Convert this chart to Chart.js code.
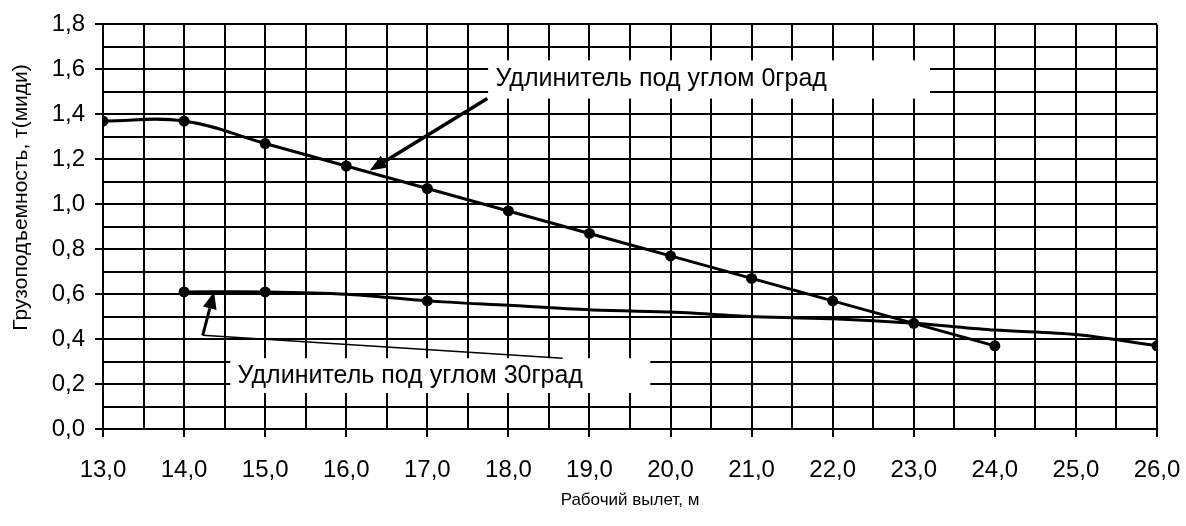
<!DOCTYPE html>
<html>
<head>
<meta charset="utf-8">
<script src="https://cdn.jsdelivr.net/npm/chart.js@4.4.1/dist/chart.umd.min.js"></script>
<style>
    html, body { margin: 0; padding: 0; background: #fff; }
    #wrap { width: 1186px; height: 526px; position: relative; }
</style>
</head>
<body>
<div id="wrap"><canvas id="chart"></canvas></div>
<script>
// Рабочий вылет, м / грузоподъемность, т
const reach0 = [13, 14, 15, 16, 17, 18, 19, 20, 21, 22, 23, 24];
const load0 = [1.37, 1.37, 1.27, 1.17, 1.07, 0.97, 0.87, 0.77, 0.67, 0.57, 0.47, 0.37];

const reach30 = [14, 15, 16, 17, 18, 19, 20, 21, 22, 23, 24, 25, 26];
const load30 = [0.61, 0.61, 0.60, 0.57, 0.55, 0.53, 0.52, 0.50, 0.49, 0.47, 0.44, 0.42, 0.37];
const marked30 = [14, 15, 17, 26];

const xTickValues = [13, 14, 15, 16, 17, 18, 19, 20, 21, 22, 23, 24, 25, 26];
const yTickValues = [0, 0.2, 0.4, 0.6, 0.8, 1.0, 1.2, 1.4, 1.6, 1.8];

const xTitle = 'Рабочий вылет, м';
const yTitle = 'Грузоподъемность, т(миди)';
const calloutTexts = ['Удлинитель под углом 0град', 'Удлинитель под углом 30град'];

const FONT = '"Liberation Sans", Arial, sans-serif';
const fmt = v => v.toFixed(1).replace('.', ',');
const isMajor = (list, v) => list.some(t => Math.abs(t - v) < 1e-6);

// callout placement, in data units
const callouts = [
    {
        text: calloutTexts[0],
        box: { x0: 17.75, x1: 23.2, y0: 1.64, y1: 1.47 },
        textAt: { x: 17.84, y: 1.555 },
        thin: null,
        arrow: { from: { x: 17.74, y: 1.47 }, to: { x: 16.29, y: 1.15 }, width: 3.5 }
    },
    {
        text: calloutTexts[1],
        box: { x0: 14.57, x1: 19.75, y0: 0.315, y1: 0.16 },
        textAt: { x: 14.66, y: 0.235 },
        thin: { from: { x: 18.67, y: 0.315 }, to: { x: 14.23, y: 0.417 } },
        arrow: { from: { x: 14.23, y: 0.417 }, to: { x: 14.37, y: 0.61 }, width: 3 }
    }
];

// y title sits a bit above the middle of the axis (centre at ~1,03)
const yTitleCentre = 1.03;

function drawArrow(ctx, x0, y0, x1, y1, width) {
    const ang = Math.atan2(y1 - y0, x1 - x0);
    const len = 17, half = 7;
    const bx = x1 - Math.cos(ang) * len;
    const by = y1 - Math.sin(ang) * len;
    ctx.strokeStyle = '#000';
    ctx.lineWidth = width;
    ctx.beginPath();
    ctx.moveTo(x0, y0);
    ctx.lineTo(bx, by);
    ctx.stroke();
    ctx.fillStyle = '#000';
    ctx.beginPath();
    ctx.moveTo(x1, y1);
    ctx.lineTo(bx + Math.sin(ang) * half, by - Math.cos(ang) * half);
    ctx.lineTo(bx - Math.sin(ang) * half, by + Math.cos(ang) * half);
    ctx.closePath();
    ctx.fill();
}

const calloutPlugin = {
    id: 'callouts',
    afterDraw(chart) {
        const ctx = chart.ctx;
        const xs = chart.scales.x, ys = chart.scales.y;
        const px = v => xs.getPixelForValue(v);
        const py = v => ys.getPixelForValue(v);
        ctx.save();
        callouts.forEach(c => {
            ctx.fillStyle = '#fff';
            ctx.fillRect(px(c.box.x0), py(c.box.y0), px(c.box.x1) - px(c.box.x0), py(c.box.y1) - py(c.box.y0));
            ctx.fillStyle = '#000';
            ctx.font = '25px ' + FONT;
            ctx.textAlign = 'left';
            ctx.textBaseline = 'middle';
            ctx.fillText(c.text, px(c.textAt.x), py(c.textAt.y));
            if (c.thin) {
                ctx.strokeStyle = '#000';
                ctx.lineWidth = 1.5;
                ctx.beginPath();
                ctx.moveTo(px(c.thin.from.x), py(c.thin.from.y));
                ctx.lineTo(px(c.thin.to.x), py(c.thin.to.y));
                ctx.stroke();
            }
            const a = c.arrow;
            drawArrow(ctx, px(a.from.x), py(a.from.y), px(a.to.x), py(a.to.y), a.width);
        });

        // vertical axis title
        ctx.translate(21, py(yTitleCentre));
        ctx.rotate(-Math.PI / 2);
        ctx.fillStyle = '#000';
        ctx.font = '21px ' + FONT;
        ctx.textAlign = 'center';
        ctx.textBaseline = 'middle';
        ctx.fillText(yTitle, 0, 0);
        ctx.restore();
    }
};

const data0 = reach0.map((x, i) => ({ x: x, y: load0[i] }));
const data30 = reach30.map((x, i) => ({ x: x, y: load30[i] }));

new Chart(document.getElementById('chart'), {
    type: 'line',
    data: {
        datasets: [
            {
                label: calloutTexts[0],
                data: data0,
                borderColor: '#000',
                backgroundColor: '#000',
                borderWidth: 3,
                pointRadius: 5.5,
                pointBorderWidth: 0,
                tension: 0.4
            },
            {
                label: calloutTexts[1],
                data: data30,
                borderColor: '#000',
                backgroundColor: '#000',
                borderWidth: 3,
                pointRadius: reach30.map(x => marked30.includes(x) ? 5.5 : 0),
                pointBorderWidth: 0,
                tension: 0.3
            }
        ]
    },
    options: {
        responsive: true,
        maintainAspectRatio: false,
        animation: false,
        layout: { padding: { left: 0, right: 29, top: 23, bottom: 0 } },
        plugins: {
            legend: { display: false },
            tooltip: { enabled: false }
        },
        scales: {
            x: {
                type: 'linear',
                min: 13,
                max: 26,
                afterFit: s => {
                    s.height = 97;
                    s.paddingLeft = 0;
                    s.paddingRight = 0;
                },
                afterBuildTicks: s => {
                    const t = [];
                    for (let v = 13; v <= 26.001; v += 0.5) t.push({ value: Math.round(v * 10) / 10 });
                    s.ticks = t;
                },
                ticks: {
                    autoSkip: false,
                    maxRotation: 0,
                    minRotation: 0,
                    padding: 19,
                    color: '#000',
                    font: { family: FONT, size: 24 },
                    callback: v => isMajor(xTickValues, v) ? fmt(v) : ''
                },
                grid: {
                    color: '#000',
                    lineWidth: 2,
                    tickLength: 8,
                    tickColor: c => (c.tick && isMajor(xTickValues, c.tick.value)) ? '#000' : 'rgba(0,0,0,0)'
                },
                border: { color: '#000', width: 2 },
                title: {
                    display: true,
                    text: xTitle,
                    color: '#000',
                    font: { family: FONT, size: 17 },
                    padding: { top: 0, bottom: 15 }
                }
            },
            y: {
                type: 'linear',
                min: 0,
                max: 1.8,
                afterFit: s => { s.width = 103; },
                afterBuildTicks: s => {
                    const t = [];
                    for (let i = 0; i <= 18; i++) t.push({ value: i / 10 });
                    s.ticks = t;
                },
                ticks: {
                    autoSkip: false,
                    padding: 10,
                    color: '#000',
                    font: { family: FONT, size: 24 },
                    callback: v => isMajor(yTickValues, v) ? fmt(v) : ''
                },
                grid: {
                    color: '#000',
                    lineWidth: 2,
                    tickLength: 8,
                    tickColor: c => (c.tick && isMajor(yTickValues, c.tick.value)) ? '#000' : 'rgba(0,0,0,0)'
                },
                border: { color: '#000', width: 2 },
                title: { display: false }
            }
        }
    },
    plugins: [calloutPlugin]
});
</script>
</body>
</html>
